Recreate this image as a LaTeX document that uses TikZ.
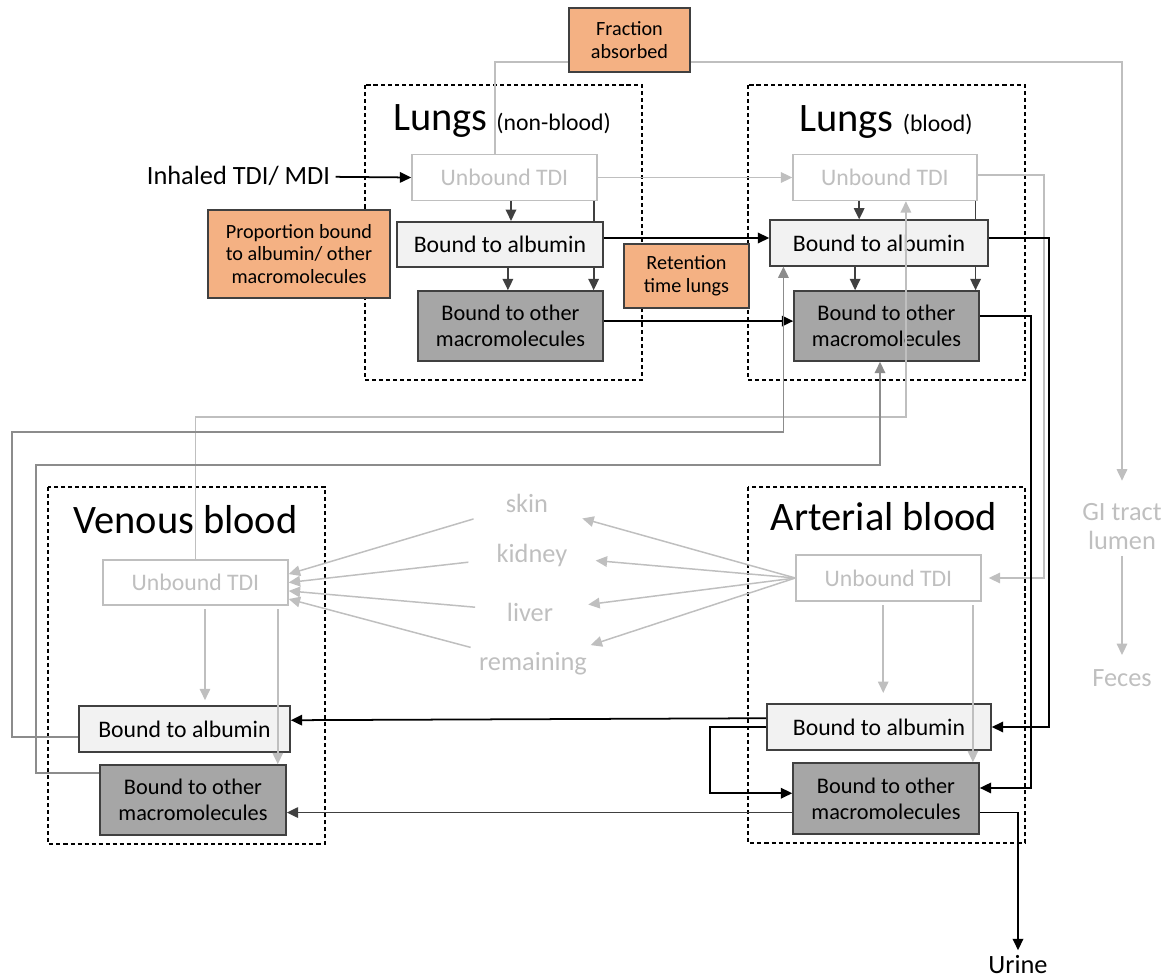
\documentclass[tikz,border=0pt]{standalone}
\usepackage{fontspec}
\setmainfont{Carlito}
\usepackage{tikz}
\usetikzlibrary{arrows.meta, backgrounds}
\usepackage{xcolor}
\definecolor{peach}{RGB}{244,177,131}
\definecolor{pale}{RGB}{191,191,191}
\definecolor{mid}{RGB}{140,140,140}
\definecolor{ink}{RGB}{64,64,64}
\definecolor{albfill}{RGB}{242,242,242}
\definecolor{macfill}{RGB}{166,166,166}

\begin{document}
\begin{tikzpicture}[x=0.02cm, y=-0.02cm,
	box/.style={draw, inner sep=0pt, align=center, line width=0.9pt},
	unb/.style={box, draw=pale, fill=white, text=pale, line width=0.8pt, minimum width=3.7cm, minimum height=0.92cm, font=\fontsize{13.5}{16}\selectfont},
	alb/.style={box, draw=ink, fill=albfill, minimum height=0.91cm, font=\fontsize{13.5}{16}\selectfont},
	mac/.style={box, draw=ink, fill=macfill, minimum width=3.7cm, minimum height=1.4cm, font=\fontsize{12.7}{14.7}\selectfont},
	param/.style={box, draw=ink, fill=peach, font=\fontsize{11.5}{13}\selectfont},
	compart/.style={draw, dash pattern=on 2.3pt off 1.7pt, line width=0.75pt},
	heading/.style={anchor=base, inner sep=0pt, font=\fontsize{23}{27}\selectfont},
	organ/.style={text=pale, inner sep=1pt, align=center, font=\fontsize{15}{16.5}\selectfont},
	plain/.style={inner sep=3pt, font=\fontsize{15}{18}\selectfont},
	flow/.style={draw=black, line width=1pt, -{Triangle[length=6.5pt, width=6pt]}},
	dflow/.style={flow, draw=ink},
	gflow/.style={flow, draw=pale, line width=0.85pt},
	mflow/.style={flow, draw=mid, line width=1pt}]

	\useasboundingbox (0,0) rectangle (1166,979);

	\draw[compart] (365,85) rectangle (642,380);
	\draw[compart] (748,85) rectangle (1025,380);
	\draw[compart] (48,487) rectangle (325,844);
	\draw[compart] (748,487) rectangle (1025,843);

	\node[heading] (lnbt) at (502,131) {Lungs {\fontsize{13.5}{16}\selectfont (non-blood)}};
	\node[heading] (lbt) at (886,132) {Lungs {\fontsize{13.5}{16}\selectfont (blood)}};
	\node[heading] (vbt) at (185.5,533) {Venous blood};
	\node[heading] (abt) at (884,530) {Arterial blood};

	\node[param, minimum width=2.42cm, minimum height=1.28cm] (frac) at (629.5,40) {Fraction\\absorbed};
	\node[param, minimum width=3.64cm, minimum height=1.76cm] (prop) at (299,254) {Proportion bound\\to albumin/ other\\macromolecules};
	\node[param, minimum width=2.5cm, minimum height=1.28cm] (ret) at (686.5,276) {Retention\\time lungs};

	\node[unb] (nbunb) at (504.5,177.5) {Unbound TDI};
	\node[alb, minimum width=4.12cm] (nbalb) at (500,244.5) {Bound to albumin};
	\node[mac] (nboth) at (510.5,326) {Bound to other\\macromolecules};

	\node[unb, minimum width=3.68cm] (bunb) at (885,177.5) {Unbound TDI};
	\node[alb, minimum width=4.36cm] (balb) at (879,243) {Bound to albumin};
	\node[mac] (both) at (886.5,326) {Bound to other\\macromolecules};

	\node[unb, minimum height=0.9cm] (vunb) at (195.5,582.5) {Unbound TDI};
	\node[alb, minimum width=4.22cm] (valb) at (184.5,729) {Bound to albumin};
	\node[mac, minimum width=3.72cm] (voth) at (193,800) {Bound to other\\macromolecules};

	\node[unb] (aunb) at (888.5,578) {Unbound TDI};
	\node[alb, minimum width=4.48cm] (aalb) at (879,727) {Bound to albumin};
	\node[mac, minimum width=3.72cm, minimum height=1.42cm] (aoth) at (886,798.5) {Bound to other\\macromolecules};

	\node[plain] (inh) at (238.5,176) {Inhaled TDI/ MDI};
	\node[plain] (urine) at (1018,965) {Urine};
	\node[organ] (skin) at (527,503) {skin};
	\node[organ] (kidney) at (532,555) {kidney};
	\node[organ] (liver) at (530,612) {liver};
	\node[organ] (rest) at (533,664) {remaining};
	\node[organ] (gi) at (1122,527) {GI tract\\lumen};
	\node[organ] (feces) at (1122,678) {Feces};

	\begin{scope}[on background layer]
		\draw[dflow] ([xshift=-2.3pt]nbunb.south east) -- ([xshift=-2.3pt]nbunb.south east |- nboth.north);
		\draw[dflow] ([xshift=-1.2pt]bunb.south east) -- ([xshift=-1.2pt]bunb.south east |- both.north);
	\end{scope}

	\draw[flow] (inh) -- (nbunb.west);
	\draw[gflow, -] ([yshift=-12.5pt]frac.west) -| ([xshift=-5.4pt]nbunb.north);
	\draw[gflow, shorten >=12pt] ([yshift=-12.5pt]frac.east) -| (gi);
	\draw[gflow, shorten <=2pt, shorten >=7pt] (gi) -- (feces);

	\draw[dflow] ([xshift=3.7pt]nbunb.south) -- ([xshift=3.7pt]nbunb.south |- nbalb.north);
	\draw[dflow] ([xshift=4.5pt]nbalb.south) -- ([xshift=4.5pt]nbalb.south |- nboth.north);
	\draw[gflow] (nbunb.east) -- (bunb.west);
	\draw[flow] ([yshift=3.7pt]nbalb.east) -- ([yshift=3.7pt]nbalb.east -| balb.west);
	\draw[flow] ([yshift=2.8pt]nboth.east) -- ([yshift=2.8pt]nboth.east -| both.west);

	\draw[dflow] ([xshift=-14.7pt]bunb.south) -- ([xshift=-14.7pt]bunb.south |- balb.north);
	\draw[dflow] ([xshift=-13.6pt]balb.south) -- ([xshift=-13.6pt]balb.south |- both.north);

	\draw[gflow] (vunb.north) |- (400,417) -| ([xshift=11.9pt]bunb.south);
	\draw[mflow] ([yshift=-4.5pt]valb.west) -| (12,432) -| ([xshift=-54.4pt]balb.south);
	\draw[mflow] ([yshift=15.3pt]voth.west) -| (36,465) -| ([xshift=-3.7pt]both.south);

	\draw[gflow, shorten >=4pt] ([yshift=1.4pt]bunb.east) -| (1044,400) |- (aunb.east);
	\draw[flow] ([yshift=2.8pt]balb.east) -| (1049,400) |- (aalb.east);
	\draw[flow] ([yshift=5.7pt]both.east) -| (1031,400) |- ([yshift=6pt]aoth.east);

	\draw[gflow, shorten >=19pt] (aunb.west) -- (skin);
	\draw[gflow, shorten >=15pt] (aunb.west) -- (kidney);
	\draw[gflow, shorten >=19pt] (aunb.west) -- (liver);
	\draw[gflow, shorten >=10pt] (aunb.west) -- (rest);

	\draw[gflow, shorten <=18pt] (skin) -- ([yshift=4.8pt]vunb.east);
	\draw[gflow, shorten <=15pt] (kidney) -- (vunb.east);
	\draw[gflow, shorten <=17pt] (liver) -- ([yshift=-4.8pt]vunb.east);
	\draw[gflow, shorten <=7pt] (rest) -- ([yshift=-9.4pt]vunb.east);

	\draw[gflow, shorten <=2pt, shorten >=3pt] ([xshift=5.4pt]vunb.south) -- ([xshift=5.4pt]vunb.south |- valb.north);
	\draw[gflow, shorten <=2pt] ([xshift=-6.2pt]vunb.south east) -- ([xshift=-6.2pt]vunb.south east |- voth.north);
	\draw[gflow, shorten <=2pt, shorten >=6pt] ([xshift=-3pt]aunb.south) -- ([xshift=-3pt]aunb.south |- aalb.north);
	\draw[gflow, shorten <=2pt] ([xshift=-5pt]aunb.south east) -- ([xshift=-5pt]aunb.south east |- aoth.north);

	\draw[flow] ([yshift=5pt]aalb.west) -- ([yshift=5pt]valb.east);
	\draw[flow] (aalb.west) -| (710,760) |- ([yshift=3pt]aoth.west);
	\draw[flow, draw=ink] ([yshift=-8pt]aoth.west) -- ([yshift=-8pt]aoth.west -| voth.east);
	\draw[flow] ([yshift=-8pt]aoth.east) -| (urine);
\end{tikzpicture}
\end{document}
